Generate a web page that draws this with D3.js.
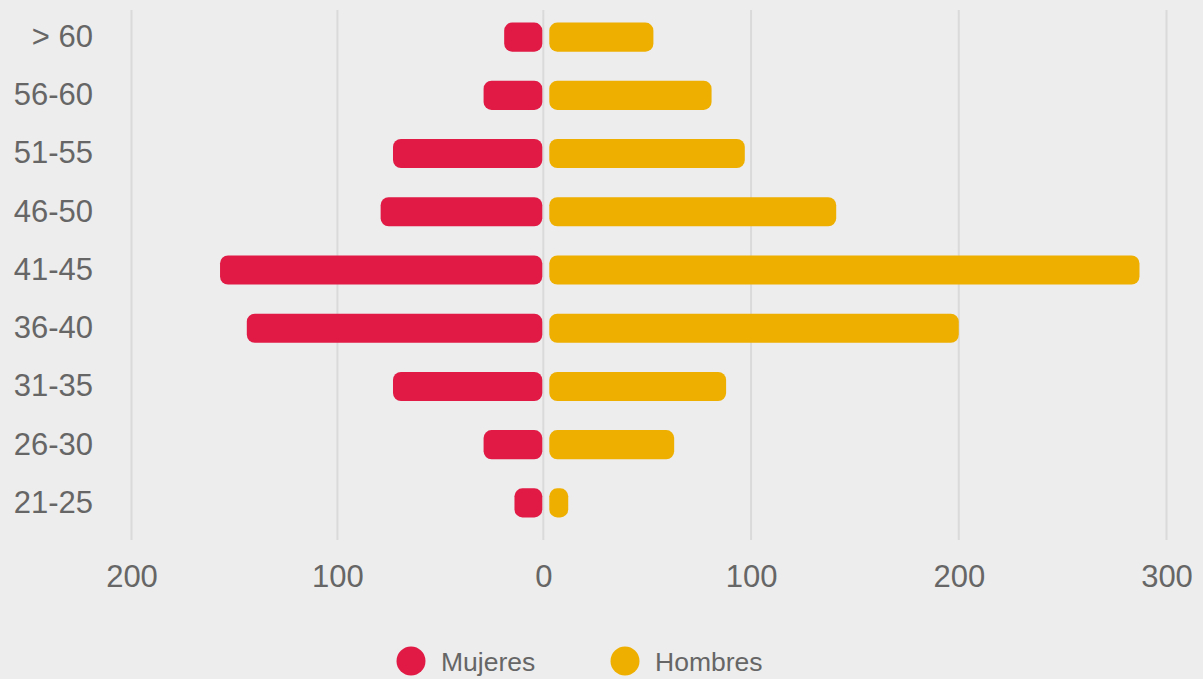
<!DOCTYPE html>
<html lang="es">
<head>
    <meta charset="UTF-8">
    <title>Mujeres / Hombres</title>
    <script src="https://d3js.org/d3.v7.min.js"></script>
    <style>
        html, body { margin: 0; padding: 0; background: #ededed; }
        svg { display: block; font-family: "Liberation Sans", Arial, sans-serif; }
    </style>
</head>
<body>

<svg width="1203" height="679"></svg>

<script>

    // datos
    var edades = ['> 60', '56-60', '51-55', '46-50', '41-45', '36-40', '31-35', '26-30', '21-25'];
    var mujeres = [19, 29, 73, 79, 157, 144, 73, 29, 14];
    var hombres = [53, 81, 97, 141, 287, 200, 88, 63, 12];
    var ticks = [-200, -100, 0, 100, 200, 300];

    var rojo = '#e01a45', amarillo = '#eeaf00';

    var svg = d3.select('svg');

    // escalas (el lado izquierdo es un poco mas estrecho en el original)
    var x = d3.scaleLinear().domain([-200, 0, 300]).range([131.5, 543.3, 1166.5]);
    var y = d3.scaleBand().domain(edades).range([8, 532]).paddingInner(0.5).paddingOuter(0.25);

    // lineas de la cuadricula
    svg.append('g')
        .selectAll('line')
        .data(ticks)
        .enter()
        .append('line')
        .attr('x1', function (d) { return x(d); })
        .attr('x2', function (d) { return x(d); })
        .attr('y1', 10)
        .attr('y2', 540)
        .attr('stroke', '#dadada')
        .attr('stroke-width', 2);

    // eje x
    var axisX = d3.axisBottom(x).tickValues(ticks).tickSize(0).tickPadding(0)
        .tickFormat(function (d) { return Math.abs(d); });

    var gx = svg.append('g')
        .attr('transform', 'translate(0,565)')
        .call(axisX);
    gx.select('.domain').remove();
    gx.selectAll('text')
        .attr('dy', '0.71em')
        .attr('font-size', 31)
        .attr('font-family', '"Liberation Sans", Arial, sans-serif')
        .attr('fill', '#666');

    // eje y
    var axisY = d3.axisLeft(y).tickSize(0).tickPadding(0);
    var gy = svg.append('g')
        .attr('transform', 'translate(93,0)')
        .call(axisY);
    gy.select('.domain').remove();
    gy.selectAll('text')
        .attr('font-size', 31)
        .attr('font-family', '"Liberation Sans", Arial, sans-serif')
        .attr('fill', '#666');

    // barras mujeres
    svg.append('g')
        .selectAll('rect')
        .data(mujeres)
        .enter()
        .append('rect')
        .attr('x', function (d) { return x(-d); })
        .attr('y', function (d, i) { return y(edades[i]); })
        .attr('width', function (d) { return x(0) - 1 - x(-d); })
        .attr('height', y.bandwidth())
        .attr('rx', 8)
        .attr('fill', rojo);

    // barras hombres
    svg.append('g')
        .selectAll('rect')
        .data(hombres)
        .enter()
        .append('rect')
        .attr('x', x(0) + 6)
        .attr('y', function (d, i) { return y(edades[i]); })
        .attr('width', function (d) { return x(d) - x(0) - 6; })
        .attr('height', y.bandwidth())
        .attr('rx', 8)
        .attr('fill', amarillo);

    // leyenda
    var leyenda = [{nombre: 'Mujeres', color: rojo, x: 411}, {nombre: 'Hombres', color: amarillo, x: 625}];
    var lg = svg.append('g').selectAll('g')
        .data(leyenda)
        .enter()
        .append('g')
        .attr('transform', function (d) { return 'translate(' + d.x + ',661)'; });
    lg.append('circle').attr('r', 14.5).attr('fill', function (d) { return d.color; });
    lg.append('text')
        .attr('x', 30)
        .attr('dy', '0.36em')
        .attr('font-size', 26.5)
        .attr('fill', '#666')
        .text(function (d) { return d.nombre; });

</script>
</body>
</html>
